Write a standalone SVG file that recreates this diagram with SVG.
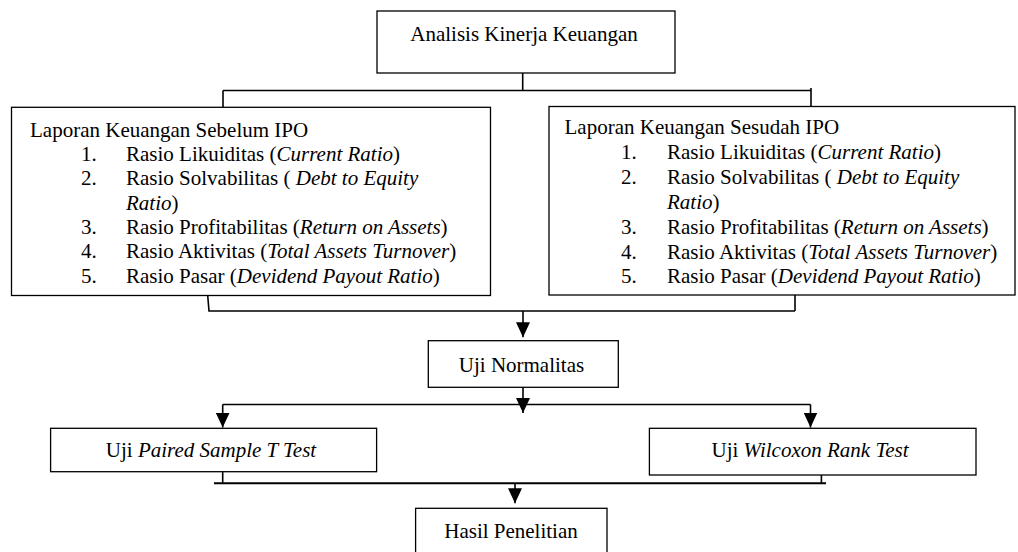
<svg xmlns="http://www.w3.org/2000/svg" width="1018" height="552" viewBox="0 0 1018 552">
<style>
.box{fill:#fff;stroke:#000;stroke-width:1.3}
.t{font-family:"Liberation Serif","Times New Roman",serif;font-size:21px;fill:#000}
.i{font-style:italic}
.m{text-anchor:middle}
.c{fill:none;stroke:#000;stroke-width:1.6}
</style>
<defs>
<marker id="ah" markerUnits="userSpaceOnUse" markerWidth="15" markerHeight="14" viewBox="0 0 15 14" refX="15" refY="7" orient="auto">
<path d="M0,0 L15,7 L0,14 z" fill="#000"/>
</marker>
</defs>
<rect width="1018" height="552" fill="#fff"/>

<g id="connectors">
<path class="c" d="M522.7,73 V90.5"/>
<path class="c" d="M223,90.5 H811"/>
<path class="c" d="M223,90.5 V107.3"/>
<path class="c" d="M811,88 V106.5"/>
<path class="c" d="M207.7,295.5 L209,311 H795"/>
<path class="c" d="M795,295 V311"/>
<path class="c" d="M523,311 V337.3" marker-end="url(#ah)"/>
<path class="c" d="M523,387.3 V413" marker-end="url(#ah)"/>
<path class="c" d="M222.7,404.5 H810.5"/>
<path class="c" d="M222.7,404.5 V427.5" marker-end="url(#ah)"/>
<path class="c" d="M810.5,404.5 V427.5" marker-end="url(#ah)"/>
<path class="c" style="stroke-width:2" d="M214,483.3 H826"/>
<path class="c" d="M222.7,471.7 V483.3"/>
<path class="c" d="M821.4,475 V483.3"/>
<path class="c" d="M515,483.3 V503.3" marker-end="url(#ah)"/>
</g>

<g id="analisis">
<rect class="box" x="377" y="11" width="298" height="62"/>
<text class="t m" x="524" y="41">Analisis Kinerja Keuangan</text>
</g>

<g id="sebelum">
<rect class="box" x="11.5" y="107.3" width="479" height="188.2"/>
<text class="t" x="30" y="136.7">Laporan Keuangan Sebelum IPO</text>
<text class="t" x="81" y="161">1.</text>
<text class="t" x="126" y="161">Rasio Likuiditas (<tspan class="i">Current Ratio</tspan>)</text>
<text class="t" x="81" y="185.3">2.</text>
<text class="t" x="126" y="185.3">Rasio Solvabilitas ( <tspan class="i">Debt to Equity</tspan></text>
<text class="t" x="126" y="209.7"><tspan class="i">Ratio</tspan>)</text>
<text class="t" x="81" y="234">3.</text>
<text class="t" x="126" y="234">Rasio Profitabilitas (<tspan class="i">Return on Assets</tspan>)</text>
<text class="t" x="81" y="258.3">4.</text>
<text class="t" x="126" y="258.3">Rasio Aktivitas (<tspan class="i">Total Assets Turnover</tspan>)</text>
<text class="t" x="81" y="282.7">5.</text>
<text class="t" x="126" y="282.7">Rasio Pasar (<tspan class="i">Devidend Payout Ratio</tspan>)</text>
</g>

<g id="sesudah">
<rect class="box" x="549" y="106.5" width="466" height="188.5"/>
<text class="t" x="564.5" y="133.5">Laporan Keuangan Sesudah IPO</text>
<text class="t" x="621" y="158.5">1.</text>
<text class="t" x="667" y="158.5">Rasio Likuiditas (<tspan class="i">Current Ratio</tspan>)</text>
<text class="t" x="621" y="183.5">2.</text>
<text class="t" x="667" y="183.5">Rasio Solvabilitas ( <tspan class="i">Debt to Equity</tspan></text>
<text class="t" x="667" y="208.5"><tspan class="i">Ratio</tspan>)</text>
<text class="t" x="621" y="233.5">3.</text>
<text class="t" x="667" y="233.5">Rasio Profitabilitas (<tspan class="i">Return on Assets</tspan>)</text>
<text class="t" x="621" y="258.5">4.</text>
<text class="t" x="667" y="258.5">Rasio Aktivitas (<tspan class="i">Total Assets Turnover</tspan>)</text>
<text class="t" x="621" y="283.3">5.</text>
<text class="t" x="667" y="283.3">Rasio Pasar (<tspan class="i">Devidend Payout Ratio</tspan>)</text>
</g>

<g id="normalitas">
<rect class="box" x="428.3" y="340.7" width="190" height="46.6"/>
<text class="t m" x="521.5" y="371.7">Uji Normalitas</text>
</g>

<g id="paired">
<rect class="box" x="50.6" y="428.3" width="326" height="43.4"/>
<text class="t m" x="211" y="456.7">Uji <tspan class="i">Paired Sample T Test</tspan></text>
</g>

<g id="wilcoxon">
<rect class="box" x="649.4" y="428.3" width="326.6" height="46.7"/>
<text class="t m" x="810" y="456.7">Uji <tspan class="i">Wilcoxon Rank Test</tspan></text>
</g>

<g id="hasil">
<rect class="box" x="415.6" y="508.3" width="191.4" height="60"/>
<text class="t m" x="511" y="538.3">Hasil Penelitian</text>
</g>
</svg>
